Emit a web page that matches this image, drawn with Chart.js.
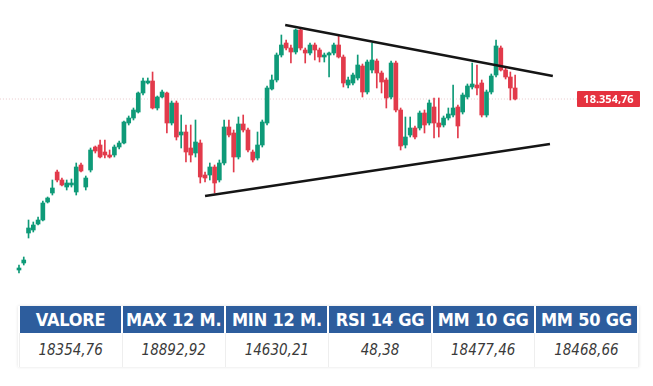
<!DOCTYPE html>
<html>
<head>
<meta charset="utf-8">
<script src="https://cdn.jsdelivr.net/npm/chart.js@4/dist/chart.umd.min.js"></script>
<style>
  html, body { margin:0; padding:0; background:#fff; width:653px; height:386px; overflow:hidden; }
  #wrap { position:absolute; left:0; top:0; width:653px; height:295px; }
  #priceTag { position:absolute; left:577px; width:63px; height:16px; background:#e5323f; color:#fff;
    font:bold 11px "Open Sans", "Liberation Sans", sans-serif; text-align:center; line-height:16px; border-radius:1px; }
  table { position:absolute; left:18px; top:306px; width:621px; border-collapse:collapse; table-layout:fixed;
    box-shadow:0 0 3px rgba(0,0,0,0.12); }
  th { background:#2d5d9d; color:#fff; font:bold 18px "Liberation Sans Narrow", "DejaVu Sans Condensed", sans-serif;
    height:27px; padding:0; border-left:2px solid #fff; border-right:2px solid #fff; letter-spacing:-0.2px; }
  td { color:#3a3a3a; font:italic 15px "Liberation Sans Narrow", "DejaVu Sans Condensed", sans-serif; text-align:center;
    height:34px; padding:0; border-left:1px solid #eee; border-right:1px solid #eee; background:#fff; }
</style>
</head>
<body>
<div id="wrap"><canvas id="c" width="653" height="295"></canvas></div>
<div id="priceTag">18.354,76</div>
<table>
  <thead><tr id="hdr"></tr></thead>
  <tbody><tr id="vals"></tr></tbody>
</table>
<script>
// OHLC values (105 daily candles)
const opens  = [16987,17043,17283,17307,17355,17387,17531,17603,17771,17707,17651,17667,17611,17827,17651,17787,17971,17987,17931,17907,
  17907,17971,18003,18163,18203,18251,18403,18483,18499,18283,18371,18403,18163,18323,18067,18091,17963,17923,18003,17747,
  17747,17811,17707,17843,18131,18083,17891,18155,18107,17931,17883,17987,18163,18435,18507,18707,18803,18763,18731,18907,
  18747,18723,18787,18747,18691,18707,18723,18787,18691,18467,18483,18523,18619,18411,18587,18659,18563,18507,18371,18643,
  18267,17987,18067,18123,18123,18243,18163,18291,18163,18147,18203,18227,18291,18251,18371,18451,18467,18483,18227,18411,
  18547,18763,18587,18531,18443];
const highs  = [17027,17091,17387,17371,17411,17539,17571,17707,17787,17723,17707,17715,17843,17843,17739,17963,17979,18027,18027,17947,
  17987,18019,18179,18219,18283,18411,18523,18523,18571,18379,18427,18411,18339,18339,18227,18147,18147,18187,18027,17771,
  17843,17827,17867,18187,18187,18107,18211,18227,18123,17947,18091,18187,18459,18547,18723,18867,18827,18787,18915,18923,
  18763,18803,18803,18763,18723,18731,18803,18867,18707,18531,18563,18707,18635,18667,18803,18675,18579,18523,18659,18659,
  18283,18211,18211,18139,18259,18267,18347,18363,18363,18219,18283,18467,18307,18403,18475,18643,18627,18507,18427,18555,
  18827,18779,18603,18571,18547];
const lows   = [16963,17027,17243,17291,17347,17379,17523,17587,17691,17659,17627,17651,17587,17771,17627,17771,17923,17883,17883,17883,
  17891,17955,17995,18147,18187,18243,18387,18475,18275,18267,18363,18083,18147,18027,17963,17851,17851,17891,17683,17691,
  17707,17603,17691,17827,18051,17771,17875,18091,17931,17851,17867,17971,18147,18427,18491,18691,18747,18643,18715,18747,
  18643,18707,18667,18651,18651,18531,18707,18683,18451,18443,18467,18507,18371,18395,18563,18443,18403,18283,18355,18251,
  17947,17963,18051,18035,18107,18083,18147,18043,18051,18131,18187,18211,18043,18235,18355,18435,18387,18211,18211,18395,
  18531,18579,18515,18347,18347];
const closes = [17003,17067,17323,17347,17387,17523,17563,17643,17707,17667,17683,17683,17811,17779,17723,17947,17939,17891,17907,17891,
  17971,18003,18171,18203,18267,18403,18499,18499,18283,18371,18411,18163,18323,18051,18091,17931,17907,18011,17731,17723,
  17811,17683,17843,18131,18067,17891,18155,18107,17947,17867,17987,18171,18443,18507,18707,18787,18763,18731,18907,18763,
  18723,18787,18747,18691,18707,18723,18787,18691,18483,18507,18547,18627,18411,18651,18667,18563,18491,18363,18643,18267,
  17979,18051,18123,18051,18243,18147,18323,18163,18131,18203,18235,18283,18139,18387,18459,18475,18443,18227,18411,18539,
  18779,18587,18531,18443,18354.76];

const lastPrice = 18354.76;
// Triangle trend lines: [startIndex, startPrice, endIndex, endPrice]
const upperTrend = [[55.8, 18947], [111.9, 18539]];
const lowerTrend = [[39.0, 17579], [111.3, 17995]];

const headers = ["VALORE", "MAX 12 M.", "MIN 12 M.", "RSI 14 GG", "MM 10 GG", "MM 50 GG"];
const values  = ["18354,76", "18892,92", "14630,21", "48,38", "18477,46", "18468,66"];

const UP = "#0e9a78", DOWN = "#e23a4b";

const hdr = document.getElementById('hdr');
headers.forEach(h => { const th = document.createElement('th'); th.textContent = h; hdr.appendChild(th); });
const vr = document.getElementById('vals');
values.forEach(v => { const td = document.createElement('td'); td.textContent = v; vr.appendChild(td); });

const idx = opens.map((_, i) => i);
const colors = idx.map(i => closes[i] >= opens[i] ? UP : DOWN);
const bodies = idx.map(i => ({ x: i, y: [opens[i], closes[i]] }));
const wicks  = idx.map(i => ({ x: i, y: [lows[i], highs[i]] }));

const tagPlugin = {
  id: 'tag',
  afterRender(chart) {
    const y = chart.scales.y.getPixelForValue(lastPrice);
    document.getElementById('priceTag').style.top = (Math.round(y) - 8) + 'px';
  }
};

new Chart(document.getElementById('c'), {
  type: 'bar',
  data: {
    datasets: [
      { type: 'line', data: upperTrend.map(p => ({ x: p[0], y: p[1] })), borderColor: '#151515', borderWidth: 2.4,
        pointRadius: 0, tension: 0 },
      { type: 'line', data: lowerTrend.map(p => ({ x: p[0], y: p[1] })), borderColor: '#151515', borderWidth: 2.4,
        pointRadius: 0, tension: 0 },
      { data: bodies, backgroundColor: colors, barThickness: 4, grouped: false, borderWidth: 0 },
      { data: wicks, backgroundColor: colors, barThickness: 1, grouped: false, borderWidth: 0 },
      { type: 'line', data: [{ x: -4, y: lastPrice }, { x: 117, y: lastPrice }], borderColor: '#e8c8ca', borderWidth: 1,
        borderDash: [1, 2], pointRadius: 0 }
    ]
  },
  options: {
    responsive: false,
    animation: false,
    devicePixelRatio: 1,
    layout: { padding: 0 },
    plugins: { legend: { display: false }, tooltip: { enabled: false } },
    scales: {
      x: { type: 'linear', display: false, min: -3.98, max: 132.9, offset: false },
      y: { display: false, min: 16787, max: 19147 }
    }
  },
  plugins: [tagPlugin]
});
</script>
</body>
</html>
